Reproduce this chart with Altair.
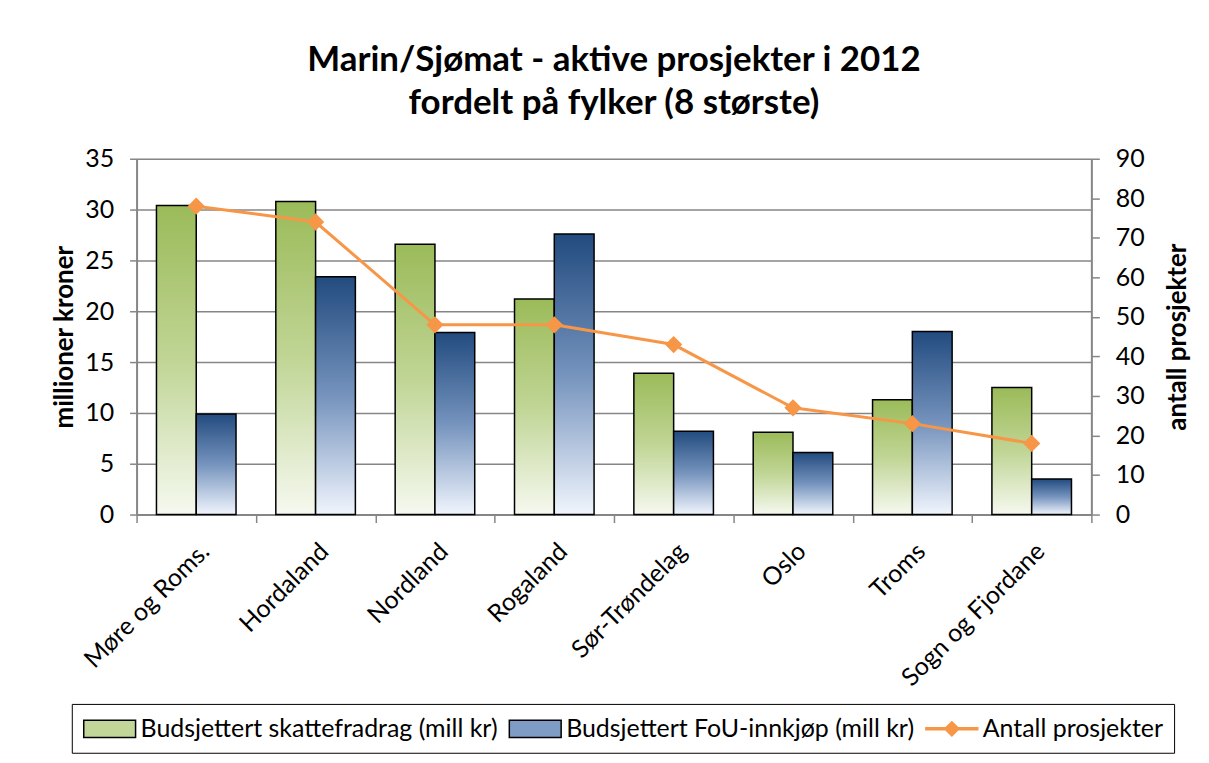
import altair as alt
import pandas as pd

fylker = ["Møre og Roms.", "Hordaland", "Nordland", "Rogaland",
          "Sør-Trøndelag", "Oslo", "Troms", "Sogn og Fjordane"]
skattefradrag = [30.4, 30.8, 26.6, 21.2, 13.9, 8.1, 11.3, 12.5]
fou_innkjop = [9.9, 23.4, 17.9, 27.6, 8.2, 6.1, 18.0, 3.5]
antall_prosjekter = [78, 74, 48, 48, 43, 27, 23, 18]

S1 = "Budsjettert skattefradrag (mill kr)"
S2 = "Budsjettert FoU-innkjøp (mill kr)"
S3 = "Antall prosjekter"
serier = [S1, S2, S3]

FONT = "Lato"
GRAY = "#868686"
ORANGE = "#f79646"

bars_df = pd.DataFrame({
    "fylke": fylker * 2,
    "serie": [S1] * len(fylker) + [S2] * len(fylker),
    "verdi": skattefradrag + fou_innkjop,
})
line_df = pd.DataFrame({"fylke": fylker, "antall": antall_prosjekter})
legend_df = pd.DataFrame({"serie": serier})

green_grad = alt.LinearGradient(
    gradient="linear", x1=0, x2=0, y1=0, y2=1,
    stops=[alt.GradientStop(offset=0, color="#9bbb59"),
           alt.GradientStop(offset=0.5, color="#c0d595"),
           alt.GradientStop(offset=1, color="#f6f9f0")])
blue_grad = alt.LinearGradient(
    gradient="linear", x1=0, x2=0, y1=0, y2=1,
    stops=[alt.GradientStop(offset=0, color="#224b7f"),
           alt.GradientStop(offset=0.5, color="#7593bd"),
           alt.GradientStop(offset=1, color="#f0f5fd")])

x_enc = alt.X("fylke:N", sort=fylker,
              scale=alt.Scale(paddingInner=0, paddingOuter=0),
              axis=alt.Axis(title=None, labelAngle=-45, labelFont=FONT,
                            labelFontSize=25, labelColor="black",
                            labelPadding=16, labelLimit=400,
                            tickBand="extent", tickSize=8,
                            tickColor=GRAY, tickWidth=1.5,
                            domainColor=GRAY, domainWidth=2))

bars = alt.Chart(bars_df).mark_bar(stroke="black", strokeWidth=1.5).encode(
    x=x_enc,
    xOffset=alt.XOffset("serie:N", sort=[S1, S2],
                        scale=alt.Scale(domain=[S1, S2], paddingInner=0,
                                        paddingOuter=0.5)),
    y=alt.Y("verdi:Q", scale=alt.Scale(domain=[0, 35], nice=False),
            axis=alt.Axis(values=list(range(0, 36, 5)),
                          title="millioner kroner", titleFont=FONT,
                          titleFontSize=26, titleFontWeight="bold",
                          titleColor="black", titlePadding=7,
                          labelFont=FONT, labelFontSize=25,
                          labelColor="black", labelPadding=16,
                          tickSize=7, tickColor=GRAY, tickWidth=1.5,
                          domainColor=GRAY, domainWidth=2,
                          grid=True, gridColor=GRAY, gridWidth=1.5)),
    fill=alt.condition(alt.datum.serie == S1, alt.value(green_grad),
                       alt.value(blue_grad)),
)

line = alt.Chart(line_df).mark_line(
    color=ORANGE, strokeWidth=3,
    point=alt.OverlayMarkDef(shape="diamond", size=300, filled=True,
                             color=ORANGE)
).encode(
    x=alt.X("fylke:N", sort=fylker),
    y=alt.Y("antall:Q", scale=alt.Scale(domain=[0, 90], nice=False),
            axis=alt.Axis(orient="right", values=list(range(0, 91, 10)),
                          title="antall prosjekter", titleAngle=270,
                          titleFont=FONT, titleFontSize=26,
                          titleFontWeight="bold", titleColor="black",
                          titlePadding=46,
                          labelFont=FONT, labelFontSize=25,
                          labelColor="black", labelPadding=16,
                          tickSize=8, tickColor=GRAY, tickWidth=1.5,
                          domainColor=GRAY, domainWidth=2, grid=False)),
)

leg = alt.Legend(title=None, orient="none", legendX=-65, legendY=547,
                 direction="horizontal", symbolSize=676,
                 symbolStrokeWidth=1.5, symbolOpacity=1,
                 labelFont=FONT, labelFontSize=25, labelColor="black",
                 labelOffset=30, columnPadding=8, padding=11,
                 strokeColor="black", fillColor="white",
                 labelLimit=500)

legend_layer = alt.Chart(legend_df).transform_filter("false").mark_point(
    filled=True
).encode(
    x=alt.value(0), y=alt.value(0),
    color=alt.Color("serie:N", scale=alt.Scale(
        domain=serier, range=["#c2d69a", "#7f9cc5", ORANGE]), legend=leg),
    shape=alt.Shape("serie:N", scale=alt.Scale(
        domain=serier,
        range=["M-1,-0.66H3V0.66H-1Z", "M-1,-0.66H3V0.66H-1Z",
               "M-1,-0.08H3V0.08H-1Z M1,-0.55L1.55,0L1,0.55L0.45,0Z"]),
        legend=leg),
    stroke=alt.Stroke("serie:N", scale=alt.Scale(
        domain=serier, range=["black", "black", ORANGE]), legend=leg),
)

chart = alt.layer(bars, line, legend_layer).resolve_scale(
    y="independent"
).properties(
    width=958, height=357,
    padding={"left": 129, "top": 150, "right": 110, "bottom": 240},
    autosize=alt.AutoSizeParams(type="none"),
    title=alt.TitleParams(
        ["Marin/Sjømat - aktive prosjekter i 2012",
         "fordelt på fylker (8 største)"],
        font=FONT, fontSize=35, fontWeight="bold", color="black",
        anchor="middle", lineHeight=43, offset=26),
).configure_view(stroke=None).configure(background="white")

chart.save("out.html", embed_options={"renderer": "svg", "actions": False})
